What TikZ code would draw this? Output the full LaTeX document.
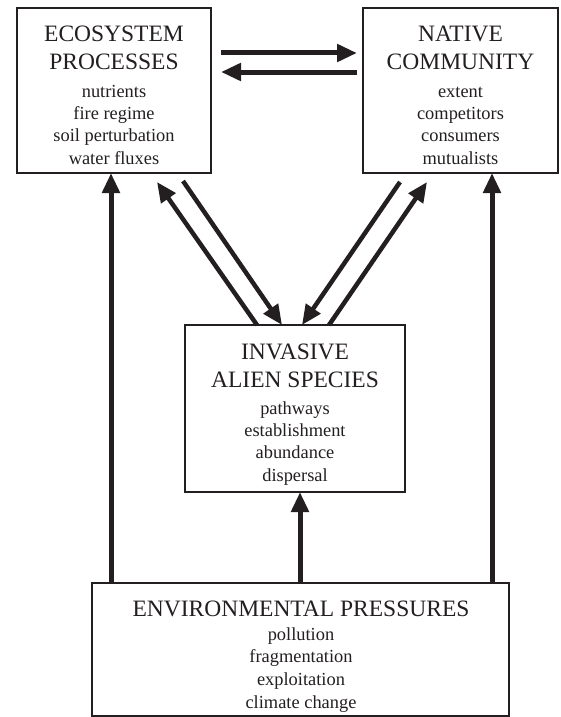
\documentclass[tikz,border=0pt]{standalone}
\usepackage{fontspec}
\setmainfont{Liberation Serif}
\usetikzlibrary{arrows.meta}

\definecolor{ink}{HTML}{231F20}

\begin{document}
\begin{tikzpicture}[x=1pt, y=-1pt,
  panel/.style={draw=ink, line width=2.2pt, outer sep=0pt, inner sep=0pt},
  title/.style={anchor=base, inner sep=0pt, text=ink, font=\fontsize{23.5}{28}\selectfont},
  item/.style={anchor=base, inner sep=0pt, text=ink, font=\fontsize{18.4}{22}\selectfont},
  arrow/.style={draw=ink, line width=5pt, -{Triangle[length=20pt,width=17pt]}},
  slant/.style={arrow, line width=4.5pt}]

\useasboundingbox (0,0) rectangle (561,717);

% Helper: stack of text lines: name prefix, centre x, first baseline, step, style, lines
\newcommand{\boxlines}[6]{%
  \foreach \l [count=\i from 0] in {#6} {
    \node[#5] (#1-\i) at (#2, #3+#4*\i) {\l};
  }
}

% --- boxes ---
\node[panel, minimum width=194pt, minimum height=165pt] (eco) at (114,90.5) {};
\node[panel, minimum width=195pt, minimum height=165pt] (nat) at (460.5,90.5) {};
\node[panel, minimum width=220pt, minimum height=167pt] (inv) at (295,408.5) {};
\node[panel, minimum width=417pt, minimum height=133pt] (env) at (300.5,649.5) {};

% --- texts ---
\boxlines{ecot}{114}{42}{28}{title}{ECOSYSTEM,PROCESSES}
\boxlines{ecoi}{114}{97}{22.4}{item}{nutrients,fire regime,soil perturbation,water fluxes}

\boxlines{natt}{460.5}{42}{28}{title}{NATIVE,COMMUNITY}
\boxlines{nati}{460.5}{97}{22.4}{item}{extent,competitors,consumers,mutualists}

\boxlines{invt}{295}{359}{28}{title}{INVASIVE,ALIEN SPECIES}
\boxlines{invi}{295}{414}{22.4}{item}{pathways,establishment,abundance,dispersal}

\boxlines{envt}{301}{616}{28}{title}{ENVIRONMENTAL PRESSURES}
\boxlines{envi}{301}{640}{22.7}{item}{pollution,fragmentation,exploitation,climate change}

% --- top pair ---
\draw[arrow] ([shift={(10pt,-45pt)}]eco.north east) -- ([shift={(-6pt,-45pt)}]nat.north west);
\draw[arrow] ([shift={(-6pt,-64pt)}]nat.north west) -- ([shift={(10pt,-64pt)}]eco.north east);

% --- diagonals ---
\draw[slant] ([xshift=-38pt]inv.north) -- ([shift={(43pt,-9pt)}]eco.south);
\draw[slant] ([shift={(69pt,-8pt)}]eco.south) -- ([xshift=-13pt]inv.north);
\draw[slant] ([shift={(-60.5pt,-9pt)}]nat.south) -- ([xshift=7pt]inv.north);
\draw[slant] ([xshift=34pt]inv.north) -- ([shift={(-33.5pt,-9pt)}]nat.south);

% --- pressures ---
\draw[arrow] ([xshift=-189.5pt]env.north) -- ([xshift=-3pt]eco.south);
\draw[arrow] ([xshift=-0.5pt]env.north) -- ([xshift=5pt]inv.south);
\draw[arrow] ([xshift=191.5pt]env.north) -- ([xshift=31.5pt]nat.south);

\end{tikzpicture}
\end{document}
